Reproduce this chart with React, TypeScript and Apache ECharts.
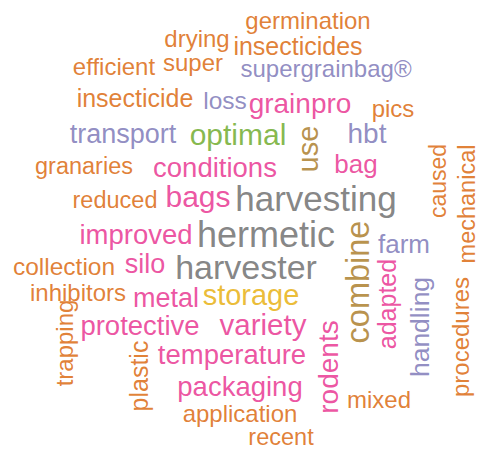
import React, { useEffect, useRef } from "react";
import * as echarts from "echarts";

// Words and their weights (weight ~ relative frequency, shown as font size)
const words = [
  "germination", "drying", "insecticides", "efficient", "super", "supergrainbag®",
  "insecticide", "loss", "grainpro", "pics", "transport", "optimal", "hbt", "use",
  "granaries", "conditions", "bag", "caused", "mechanical", "reduced", "bags",
  "harvesting", "improved", "hermetic", "combine", "farm", "collection", "silo",
  "harvester", "adapted", "handling", "procedures", "inhibitors", "metal", "storage",
  "trapping", "protective", "variety", "rodents", "plastic", "temperature",
  "packaging", "mixed", "application", "recent",
];
const weights = [
  24, 24, 25, 24, 24, 24,
  25, 24.5, 28, 24, 27, 30, 28, 29,
  23.5, 27.5, 26, 23, 23.5, 23.5, 30,
  35, 27.5, 36, 32.5, 26, 24.5, 27,
  34, 25, 26.5, 24, 24, 27, 29,
  24, 27.5, 29.5, 28, 25, 27.5,
  27.5, 24, 24, 23.5,
];
// colour group per word (index into palette)
const groups = [
  0, 0, 0, 0, 0, 1,
  0, 1, 2, 0, 1, 3, 1, 5,
  0, 2, 2, 0, 0, 0, 2,
  6, 2, 6, 5, 1, 0, 2,
  6, 2, 1, 0, 0, 2, 4,
  0, 2, 2, 2, 0, 2,
  2, 0, 0, 0,
];

// layout of the cloud: [x, y, rotation]
const layout: [number, number, number][] = [
  [308, 20, 0], [197, 38, 0], [298, 46, 0], [114, 66, 0], [193, 62, 0], [326, 68, 0],
  [135, 98, 0], [225, 100, 0], [300, 103, 0], [393, 108, 0], [123, 134, 0], [238, 134, 0], [367, 133, 0], [308, 149, 90],
  [84, 166, 0], [215, 167, 0], [356, 164, 0], [438, 181, 90], [467, 204, 90], [115, 200, 0], [198, 196, 0],
  [316, 198, 0], [136, 234, 0], [266, 234, 0], [358, 282, 90], [404, 244, 0], [64, 266, 0], [145, 264, 0],
  [246, 267, 0], [387, 304, 90], [420, 327, 90], [460, 337, 90], [78, 292, 0], [166, 298, 0], [251, 295, 0],
  [64, 343, 90], [140, 325, 0], [263, 324, 0], [328, 367, 90], [139, 376, 90], [232, 354, 0],
  [240, 386, 0], [379, 399, 0], [240, 413, 0], [281, 437, 0],
];

const palette = ["#D95F02", "#7570B3", "#E7298A", "#66A61E", "#E6AB02", "#A6761D", "#666666"];

export default function App() {
  const ref = useRef<HTMLDivElement>(null);
  useEffect(() => {
    document.body.style.margin = "0";
    const chart = echarts.init(ref.current!, undefined, { renderer: "svg" });
    const data = words.map((w, i) => ({
      name: w,
      value: [layout[i][0], layout[i][1]],
      label: {
        fontSize: weights[i],
        lineHeight: Math.round(weights[i] * 0.85),
        color: palette[groups[i]],
        rotate: layout[i][2],
      },
    }));
    chart.setOption({
      animation: false,
      backgroundColor: "#ffffff",
      grid: { left: 0, right: 0, top: 0, bottom: 0 },
      xAxis: { type: "value", min: 0, max: 480, show: false },
      yAxis: { type: "value", min: 0, max: 449, inverse: true, show: false },
      series: [
        {
          type: "scatter",
          symbolSize: 0,
          data,
          label: {
            show: true,
            position: "inside",
            formatter: (p: any) => p.name,
            fontFamily: "Liberation Sans, Arial, sans-serif",
            align: "center",
            verticalAlign: "middle",
          },
          emphasis: { disabled: true },
        },
      ],
    });
    return () => chart.dispose();
  }, []);
  return <div ref={ref} style={{ width: 480, height: 449 }} />;
}
